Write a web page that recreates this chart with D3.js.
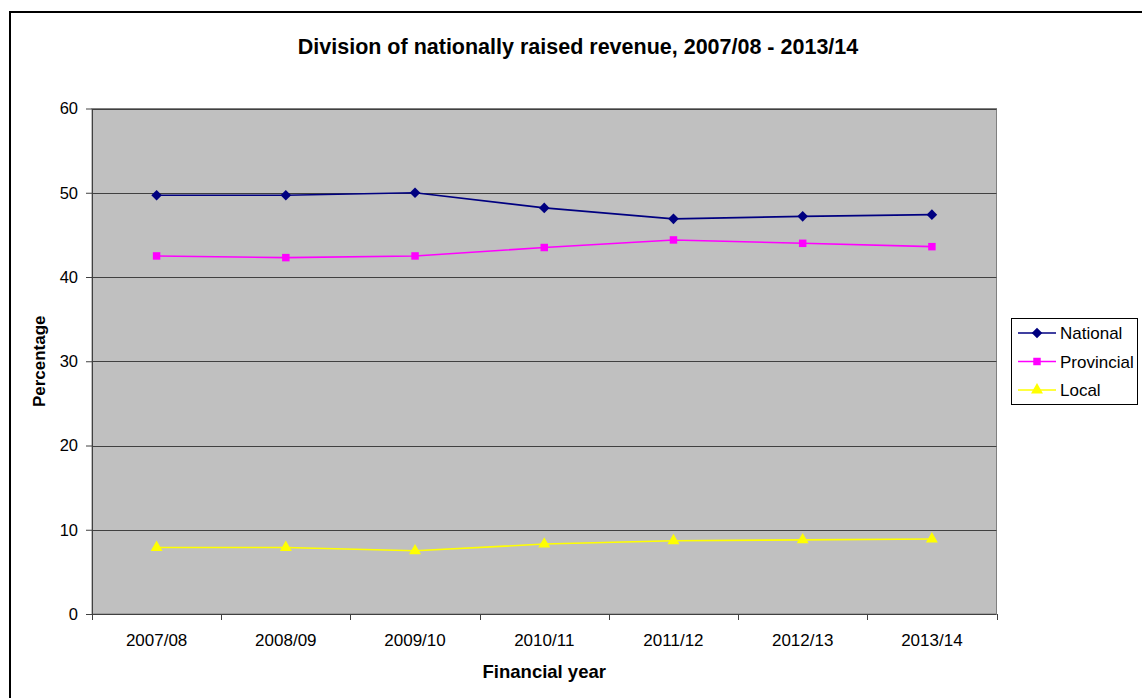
<!DOCTYPE html>
<html>
<head>
<meta charset="utf-8">
<script src="https://cdn.jsdelivr.net/npm/d3@7"></script>
<style>
  html, body { margin: 0; padding: 0; background: #fff; }
  svg { display: block; font-family: "Liberation Sans", Arial, sans-serif; }
</style>
</head>
<body>
<svg id="chart" width="1142" height="698"></svg>
<script>
// Financial years on the x axis
const years = ["2007/08", "2008/09", "2009/10", "2010/11", "2011/12", "2012/13", "2013/14"];
// Share of nationally raised revenue (%) by sphere of government
const national   = [49.7, 49.7, 50.0, 48.2, 46.9, 47.2, 47.4];
const provincial = [42.5, 42.3, 42.5, 43.5, 44.4, 44.0, 43.6];
const local      = [7.9, 7.9, 7.5, 8.3, 8.7, 8.8, 8.9];
const yTicks = [0, 10, 20, 30, 40, 50, 60];

const seriesNames = ["National", "Provincial", "Local"];
const seriesValues = [national, provincial, local];
const seriesColors = ["#000080", "#FF00FF", "#FFFF00"];

// Square diamond (equal width and height), as in spreadsheet-style markers
const squareDiamond = {
  draw(context, size) {
    const r = Math.sqrt(size / 2);
    context.moveTo(0, -r);
    context.lineTo(r, 0);
    context.lineTo(0, r);
    context.lineTo(-r, 0);
    context.closePath();
  }
};
const seriesSymbols = [squareDiamond, d3.symbolSquare, d3.symbolTriangle];
const symbolSizes = [56, 56, 62];

const svg = d3.select("#chart");
const plot = { left: 92, right: 996.5, top: 108.5, bottom: 614 };

// Outer chart frame
svg.append("rect")
  .attr("x", 10).attr("y", 12).attr("width", 1150).attr("height", 700)
  .attr("fill", "#fff").attr("stroke", "#000").attr("stroke-width", 2);

const x = d3.scaleBand().domain(years).range([plot.left, plot.right]).padding(0);
const y = d3.scaleLinear().domain([0, 60]).range([plot.bottom, plot.top]);

// Plot area background
svg.append("rect")
  .attr("x", plot.left).attr("y", plot.top)
  .attr("width", plot.right - plot.left).attr("height", plot.bottom - plot.top)
  .attr("fill", "#C0C0C0").attr("stroke", "#808080").attr("stroke-width", 1);

// Horizontal gridlines
svg.append("g").selectAll("line")
  .data(yTicks.filter(t => t > 0))
  .join("line")
  .attr("x1", plot.left).attr("x2", plot.right)
  .attr("y1", d => Math.round(y(d)) + 0.5).attr("y2", d => Math.round(y(d)) + 0.5)
  .attr("stroke", "#404040").attr("stroke-width", 1);

// Y axis
const yAxis = svg.append("g")
  .attr("transform", `translate(${plot.left},0)`)
  .call(d3.axisLeft(y).tickValues(yTicks).tickSize(6).tickPadding(8).tickSizeOuter(0));
yAxis.select(".domain").attr("stroke", "#404040");
yAxis.selectAll(".tick line").attr("stroke", "#404040");
yAxis.selectAll(".tick text").attr("font-size", 16.5).attr("fill", "#000")
  .attr("font-family", "Liberation Sans, Arial, sans-serif");

// X axis with ticks between categories
const xAxisG = svg.append("g").attr("transform", `translate(0,${plot.bottom})`);
xAxisG.append("line")
  .attr("x1", plot.left).attr("x2", plot.right)
  .attr("y1", 0.5).attr("y2", 0.5).attr("stroke", "#404040");
const boundaries = years.map(d => x(d)).concat([x(years[years.length - 1]) + x.bandwidth()]);
xAxisG.selectAll("line.tk").data(boundaries).join("line")
  .attr("class", "tk")
  .attr("x1", d => Math.round(d) + 0.5).attr("x2", d => Math.round(d) + 0.5)
  .attr("y1", 0).attr("y2", 6).attr("stroke", "#404040");
xAxisG.selectAll("text").data(years).join("text")
  .attr("x", d => x(d) + x.bandwidth() / 2)
  .attr("y", 32)
  .attr("text-anchor", "middle")
  .attr("font-size", 17)
  .attr("fill", "#000")
  .text(d => d);

// Series lines and markers
const lineGen = d3.line()
  .x((d, i) => x(years[i]) + x.bandwidth() / 2)
  .y(d => y(d));

seriesValues.forEach((vals, s) => {
  svg.append("path")
    .datum(vals)
    .attr("d", lineGen)
    .attr("fill", "none")
    .attr("stroke", seriesColors[s])
    .attr("stroke-width", 1.6);
  svg.append("g").selectAll("path")
    .data(vals)
    .join("path")
    .attr("transform", (d, i) => `translate(${x(years[i]) + x.bandwidth() / 2},${y(d)})`)
    .attr("d", d3.symbol().type(seriesSymbols[s]).size(symbolSizes[s]))
    .attr("fill", seriesColors[s]);
});

// Title
svg.append("text")
  .attr("x", 578).attr("y", 54)
  .attr("text-anchor", "middle")
  .attr("font-size", 21.5).attr("font-weight", "bold")
  .text("Division of nationally raised revenue, 2007/08 - 2013/14");

// Axis titles
svg.append("text")
  .attr("x", (plot.left + plot.right) / 2).attr("y", 678)
  .attr("text-anchor", "middle")
  .attr("font-size", 18.5).attr("font-weight", "bold")
  .text("Financial year");

svg.append("text")
  .attr("transform", `translate(45,${(plot.top + plot.bottom) / 2}) rotate(-90)`)
  .attr("text-anchor", "middle")
  .attr("font-size", 17).attr("font-weight", "bold")
  .text("Percentage");

// Legend
const legend = svg.append("g");
legend.append("rect")
  .attr("x", 1011.5).attr("y", 318.5).attr("width", 126).attr("height", 86)
  .attr("fill", "#fff").attr("stroke", "#000").attr("stroke-width", 1);
seriesNames.forEach((name, s) => {
  const ly = 333 + s * 28.5;
  legend.append("line")
    .attr("x1", 1018).attr("x2", 1056).attr("y1", ly).attr("y2", ly)
    .attr("stroke", seriesColors[s]).attr("stroke-width", 1.6);
  legend.append("path")
    .attr("transform", `translate(1037,${ly})`)
    .attr("d", d3.symbol().type(seriesSymbols[s]).size(symbolSizes[s]))
    .attr("fill", seriesColors[s]);
  legend.append("text")
    .attr("x", 1060).attr("y", ly + 6)
    .attr("font-size", 17)
    .text(name);
});
</script>
</body>
</html>
